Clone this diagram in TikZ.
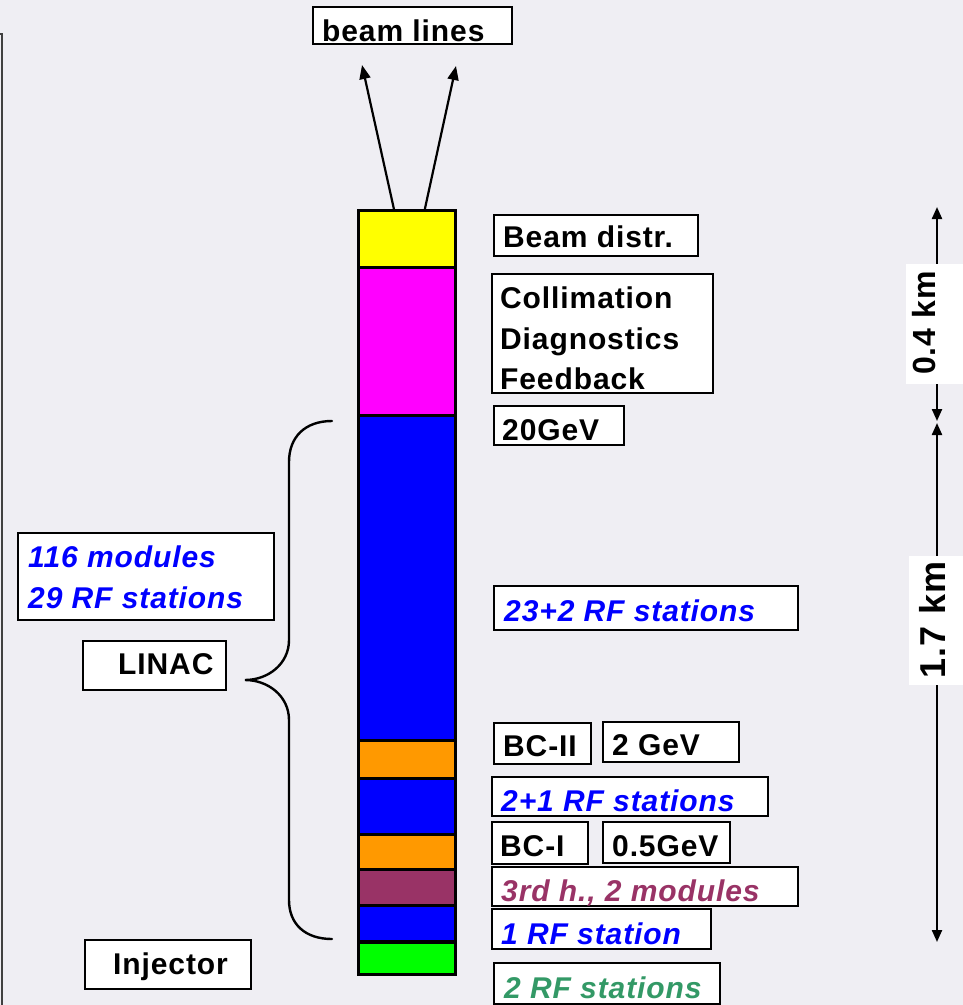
\documentclass[tikz,border=0pt]{standalone}
\usepackage{fontspec}
\setmainfont[LetterSpace=3]{Liberation Sans}
\usetikzlibrary{arrows.meta,calc}

\definecolor{bg}{RGB}{239,238,243}
\definecolor{segyellow}{RGB}{255,255,0}
\definecolor{segmagenta}{RGB}{255,0,255}
\definecolor{segblue}{RGB}{0,0,255}
\definecolor{segorange}{RGB}{255,153,0}
\definecolor{segmaroon}{RGB}{153,51,102}
\definecolor{seggreen}{RGB}{0,255,0}
\definecolor{txtgreen}{RGB}{51,153,102}

% framed label box given by its outer corners
\newcommand{\labelbox}[5]{%
  \node[lbox, anchor=north west, minimum width={(#4-#2)*1pt}, minimum height={(#5-#3)*1pt}] (#1) at (#2,#3) {};}
% one segment of the machine column
\newcommand{\segment}[4]{%
  \node[seg, fill=#2, anchor=north west, minimum height={(#4-#3)*1pt}] (#1) at (357,#3) {};}

\begin{document}
\begin{tikzpicture}[x=1pt, y=-1pt,
  lbox/.style={draw, line width=2.6pt, fill=white, inner sep=0pt, outer sep=0pt},
  seg/.style={draw, line width=2.8pt, inner sep=0pt, minimum width=97pt},
  lbl/.style={inner sep=0pt, anchor=base west, font=\fontsize{30}{40}\selectfont\bfseries},
  ilbl/.style={lbl, font=\fontsize{30}{40}\selectfont\bfseries\itshape},
  arr/.style={line width=2.2pt, -{Triangle[length=14pt, width=11pt]}},
  dim/.style={line width=2.2pt, {Triangle[length=12pt, width=10pt]}-{Triangle[length=12pt, width=10pt]}},
  brace/.style={line width=2.4pt, line cap=round}
]
\fill[bg] (0,0) rectangle (963,1005);
\useasboundingbox (0,0) rectangle (963,1005);

% frame edge on the left
\draw[line width=1.6pt, black!75] (0,34) -- (2,34) -- (2,1006);

% machine column, top to bottom
\segment{distr}{segyellow}{209}{266}
\segment{coll}{segmagenta}{266}{414}
\segment{linacmain}{segblue}{414}{739}
\segment{bctwo}{segorange}{739}{777}
\segment{linacone}{segblue}{777}{833}
\segment{bcone}{segorange}{833}{868}
\segment{third}{segmaroon}{868}{904}
\segment{rfinj}{segblue}{904}{940}
\segment{inj}{seggreen}{941}{973}

% beam lines
\labelbox{beamlines}{313}{7}{512}{44}
\node[lbl] (beamlines-t) at (322,41) {beam lines};
\coordinate (blA) at (362,65);
\coordinate (blB) at (456,66);
\draw[arr] ($(distr.north west)!0.37!(distr.north east)$) -- (blA);
\draw[arr] ($(distr.north west)!0.68!(distr.north east)$) -- (blB);

% labels right of the column
\labelbox{bdistr}{494}{215}{698}{256}
\node[lbl] (bdistr-t) at (503,247) {Beam distr.};

\labelbox{colldiag}{492}{274}{713}{393}
\node[lbl] (colldiag-a) at (500,308) {Collimation};
\node[lbl] (colldiag-b) at (500,349) {Diagnostics};
\node[lbl] (colldiag-c) at (500,389) {Feedback};

\labelbox{e20}{494}{406}{624}{445}
\node[lbl] (e20-t) at (502,440) {20GeV};

\labelbox{rf25}{494}{586}{798}{630}
\node[ilbl, text=segblue] (rf25-t) at (504,621) {23+2 RF stations};

\labelbox{bc2}{494}{723}{591}{764}
\node[lbl] (bc2-t) at (503,756) {BC-II};
\labelbox{e2}{603}{722}{739}{762}
\node[lbl] (e2-t) at (612,755) {2 GeV};

\labelbox{rf3}{492}{777}{768}{816}
\node[ilbl, text=segblue] (rf3-t) at (501,811) {2+1 RF stations};

\labelbox{bc1}{492}{822}{588}{864}
\node[lbl] (bc1-t) at (500,856) {BC-I};
\labelbox{e05}{603}{822}{730}{863}
\node[lbl] (e05-t) at (612,856) {0.5GeV};

\labelbox{h3}{492}{867}{798}{906}
\node[ilbl, text=segmaroon] (h3-t) at (501,901) {3rd h., 2 modules};

\labelbox{rf1}{492}{909}{711}{949}
\node[ilbl, text=segblue] (rf1-t) at (501,944) {1 RF station};

\labelbox{rf2}{494}{963}{720}{1004}
\node[ilbl, text=txtgreen] (rf2-t) at (504,998) {2 RF stations};

% labels left of the column
\labelbox{modules}{18}{533}{274}{620}
\node[ilbl, text=segblue] (modules-a) at (28,567) {116 modules};
\node[ilbl, text=segblue] (modules-b) at (28,608) {29 RF stations};

\labelbox{linac}{83}{641}{226}{690}
\node[lbl] (linac-t) at (118,674) {LINAC};

\labelbox{injector}{85}{940}{251}{989}
\node[lbl] (injector-t) at (113,974) {Injector};

% curly brace over the linac section
\draw[brace] (332,421) .. controls (305,421) and (289,437) .. (289,462)
  -- (289,640) .. controls (289,664) and (268,680) .. (245,680)
  .. controls (268,680) and (289,696) .. (289,720)
  -- (289,900) .. controls (289,924) and (305,939) .. (332,939);

% length scale
\coordinate (sTop) at (937,207);
\coordinate (sMid) at (937,422);
\coordinate (sBot) at (937,942);
\draw[dim] (sTop) -- ($(sMid)+(0,-1)$);
\draw[dim] ($(sMid)+(0,1)$) -- (sBot);
\node[fill=white, inner sep=0pt, anchor=north west, minimum width=60pt, minimum height=120pt] (len04) at (906,264) {};
\node[lbl, anchor=base, rotate=90, font=\fontsize{32}{40}\selectfont\bfseries] (len04-t) at (935,323) {0.4 km};
\node[fill=white, inner sep=0pt, anchor=north west, minimum width=60pt, minimum height=129pt] (len17) at (909,556) {};
\node[lbl, anchor=base, rotate=90, font=\fontsize{36}{40}\selectfont\bfseries] (len17-t) at (945,620) {1.7 km};
\end{tikzpicture}
\end{document}
